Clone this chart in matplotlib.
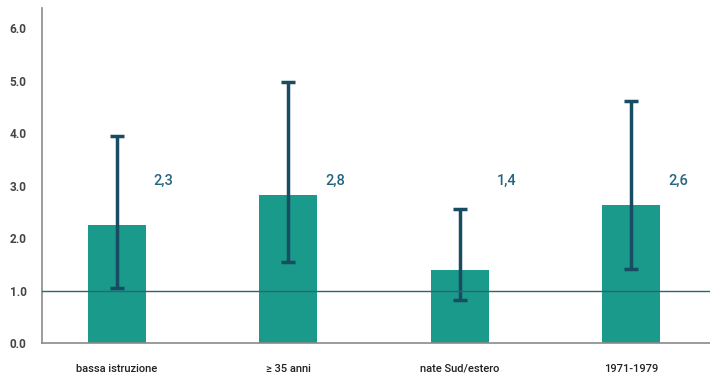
import matplotlib
matplotlib.use("Agg")
import matplotlib.pyplot as plt

categories = ["bassa istruzione", "≥ 35 anni", "nate Sud/estero", "1971-1979"]
values = [2.25, 2.82, 1.4, 2.63]
value_labels = ["2,3", "2,8", "1,4", "2,6"]
ci_low = [1.05, 1.55, 0.82, 1.41]
ci_high = [3.95, 4.98, 2.56, 4.62]
yticks = [0.0, 1.0, 2.0, 3.0, 4.0, 5.0, 6.0]

plt.rcParams['font.family'] = ['Roboto', 'DejaVu Sans']

fig = plt.figure(figsize=(7.1, 3.77), dpi=100)
ax = fig.add_axes([0.059, 0.090, 0.941, 0.889])

x = list(range(len(categories)))
ax.bar(x, values, width=0.34, color="#1a9a8a", zorder=2)
yerr = [[v - l for v, l in zip(values, ci_low)], [h - v for v, h in zip(values, ci_high)]]
ax.errorbar(x, values, yerr=yerr, fmt="none", ecolor="#184c62", elinewidth=2.5,
            capsize=5, capthick=2.5, zorder=3)
ax.axhline(1.0, color="#2a6475", linewidth=1.0, zorder=4)

for xi, lab in zip(x, value_labels):
    ax.text(xi + 0.215, 3.1, lab, color="#24647e", fontsize=10.5, ha="left",
            va="center", fontweight="medium")

ax.set_xlim(-0.437, 3.46)
ax.set_ylim(0, 6.39)
ax.set_yticks(yticks)
ax.set_yticklabels([f"{t:.1f}" for t in yticks], fontsize=8.5, color="#444444", fontweight="bold")
ax.set_xticks(x)
ax.set_xticklabels(categories, fontsize=8, color="#222222", fontweight="medium")
ax.tick_params(axis="both", length=0)
ax.tick_params(axis="x", pad=15)
ax.tick_params(axis="y", pad=11)
for s in ["top", "right"]:
    ax.spines[s].set_visible(False)
for s in ["left", "bottom"]:
    ax.spines[s].set_color("#8a8a8a")
    ax.spines[s].set_linewidth(1.2)

fig.savefig("out.png", dpi=100)
